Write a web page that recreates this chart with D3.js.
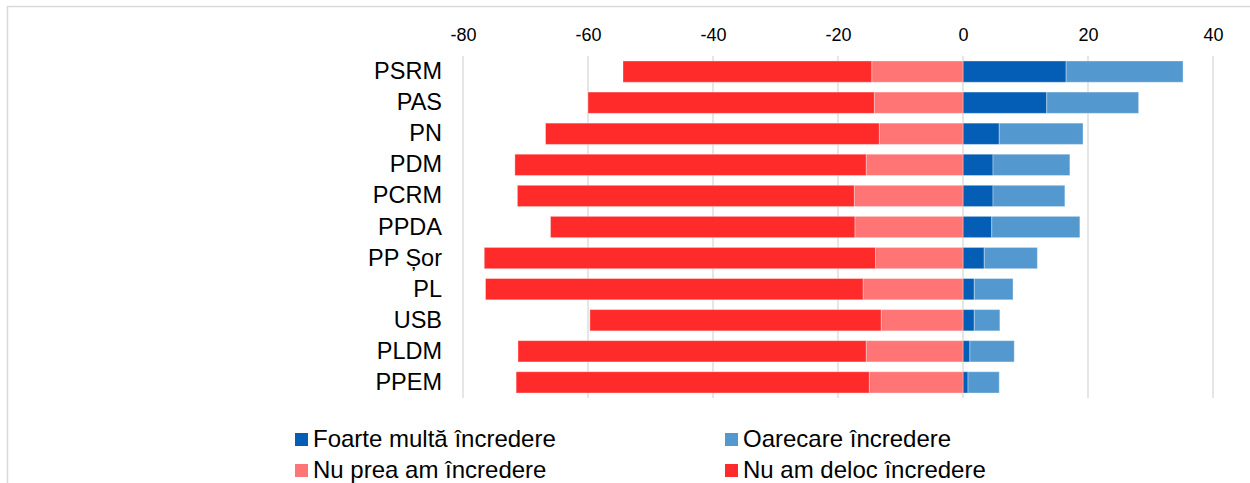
<!DOCTYPE html>
<html>
<head>
<meta charset="utf-8">
<script src="https://cdn.jsdelivr.net/npm/d3@7"></script>
<style>
  html, body { margin: 0; padding: 0; background: #fff; }
  svg { display: block; font-family: "Liberation Sans", Arial, sans-serif; }
</style>
</head>
<body>
<svg id="chart" width="1250" height="483"></svg>
<script>
// ---- data ----
const categories = ["PSRM", "PAS", "PN", "PDM", "PCRM", "PPDA", "PP Șor", "PL", "USB", "PLDM", "PPEM"];
const foarteMulta = [16.5, 13.4, 5.8, 4.8, 4.8, 4.6, 3.4, 1.8, 1.8, 1.1, 0.8];
const oarecare    = [18.7, 14.7, 13.4, 12.3, 11.5, 14.1, 8.5, 6.2, 4.1, 7.1, 5.0];
const nuPrea      = [14.6, 14.2, 13.4, 15.5, 17.4, 17.3, 14.0, 16.0, 13.1, 15.5, 15.0];
const nuDeloc     = [39.8, 45.8, 53.4, 56.2, 53.9, 48.7, 62.6, 60.4, 46.6, 55.7, 56.5];
const tickValues  = [-80, -60, -40, -20, 0, 20, 40];
const tickLabels  = ["-80", "-60", "-40", "-20", "0", "20", "40"];
const seriesNames = ["Foarte multă încredere", "Oarecare încredere", "Nu prea am încredere", "Nu am deloc încredere"];
const seriesColors = ["#055EB5", "#5399D0", "#FF7575", "#FF2A2A"];

// ---- build table ----
const keys = ["foarte", "oarecare", "prea", "deloc"];
const rows = categories.map((c, i) => ({
  cat: c,
  foarte: foarteMulta[i],
  oarecare: oarecare[i],
  prea: -nuPrea[i],
  deloc: -nuDeloc[i]
}));

const svg = d3.select("#chart");

// chart frame
svg.append("path")
  .attr("d", "M7.5,483 V6.5 H1250")
  .attr("fill", "none")
  .attr("stroke", "#d9d9d9")
  .attr("stroke-width", 1.5);

const x = d3.scaleLinear().domain([-80, 40]).range([463, 1213]);
const y = d3.scaleBand().domain(categories).range([56, 398]).paddingInner(0.315).paddingOuter(0.16);

// gridlines
svg.append("g").selectAll("line")
  .data(tickValues)
  .join("line")
  .attr("x1", d => x(d)).attr("x2", d => x(d))
  .attr("y1", 56).attr("y2", 398)
  .attr("stroke", "#d9d9d9")
  .attr("stroke-width", 1.3);

// top axis labels
const axis = d3.axisTop(x).tickValues(tickValues).tickSize(0).tickPadding(15)
  .tickFormat((d, i) => tickLabels[i]);
const ax = svg.append("g").attr("transform", "translate(0,56)").call(axis);
ax.select(".domain").remove();
ax.selectAll("text").attr("font-size", 18).attr("fill", "#000")
  .attr("font-family", "'Liberation Sans', Arial, sans-serif");

// stacked bars
const stack = d3.stack().keys(keys).offset(d3.stackOffsetDiverging);
const stacked = stack(rows);
const color = d3.scaleOrdinal().domain(keys).range(seriesColors);

svg.append("g").selectAll("g")
  .data(stacked)
  .join("g")
  .attr("fill", d => color(d.key))
  .selectAll("rect")
  .data(d => d)
  .join("rect")
  .attr("x", d => x(Math.min(d[0], d[1])))
  .attr("width", d => Math.abs(x(d[1]) - x(d[0])))
  .attr("y", d => y(d.data.cat))
  .attr("height", y.bandwidth())
  .attr("stroke", "rgba(255,255,255,0.35)")
  .attr("stroke-width", 1);

// category labels
const yAxis = d3.axisLeft(y).tickSize(0).tickPadding(0);
const yg = svg.append("g").attr("transform", "translate(442,0)").call(yAxis);
yg.select(".domain").remove();
yg.selectAll("text").attr("font-size", 23.5).attr("fill", "#000")
  .attr("font-family", "'Liberation Sans', Arial, sans-serif");

// legend
const legendPos = [
  {sx: 295, row: 0}, {sx: 725, row: 0},
  {sx: 295, row: 1}, {sx: 725, row: 1}
];
const lg = svg.append("g").selectAll("g")
  .data(seriesNames)
  .join("g")
  .attr("transform", (d, i) => `translate(${legendPos[i].sx},${433 + legendPos[i].row * 31})`);
lg.append("rect")
  .attr("width", 13).attr("height", 13)
  .attr("fill", (d, i) => seriesColors[i]);
lg.append("text")
  .attr("x", 18).attr("y", 14)
  .attr("font-size", 24)
  .attr("fill", "#000")
  .text(d => d);
</script>
</body>
</html>
